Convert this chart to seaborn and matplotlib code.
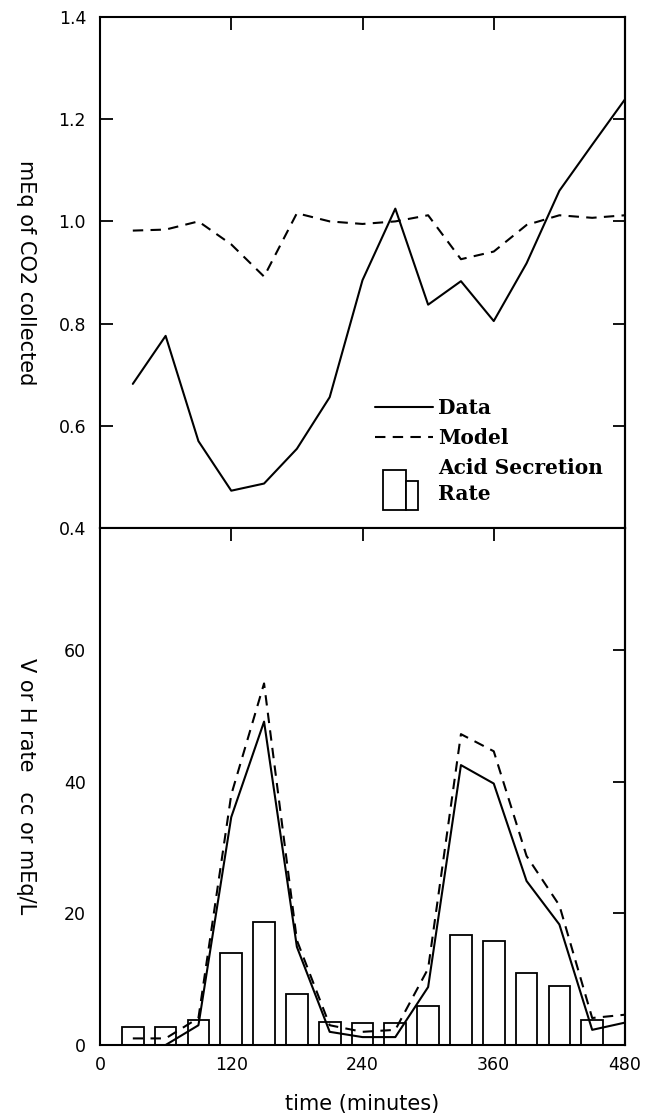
import numpy as np
import pandas as pd
import matplotlib
matplotlib.use("Agg")
import matplotlib.pyplot as plt
import seaborn as sns
from matplotlib.lines import Line2D
from matplotlib.patches import Rectangle
from matplotlib.legend_handler import HandlerBase

# ---------------- data ----------------
time_top = [30, 60, 90, 120, 150, 180, 210, 240, 270, 300, 330, 360, 390, 420, 450, 480]
co2_data = [0.682, 0.776, 0.570, 0.473, 0.487, 0.555, 0.656, 0.885, 1.025, 0.837,
            0.883, 0.805, 0.918, 1.060, 1.150, 1.239]
co2_model = [0.982, 0.984, 1.000, 0.955, 0.892, 1.016, 1.000, 0.995, 1.000, 1.012,
             0.926, 0.941, 0.993, 1.012, 1.007, 1.012]

bar_time = [30, 60, 90, 120, 150, 180, 210, 240, 270, 300, 330, 360, 390, 420, 450]
acid_rate = [2.8, 2.8, 3.8, 14.0, 18.7, 7.7, 3.5, 3.4, 3.4, 5.9, 16.7, 15.8, 11.0, 8.9, 3.8]

time_data_bot = [60, 90, 120, 150, 180, 210, 240, 270, 300, 330, 360, 390, 420, 450, 480]
vh_data = [0.0, 3.0, 34.6, 49.1, 14.9, 2.0, 1.2, 1.2, 8.8, 42.5, 39.7, 24.9, 18.3, 2.3, 3.4]
time_model_bot = [30, 60, 90, 120, 150, 180, 210, 240, 270, 300, 330, 360, 390, 420, 450, 480]
vh_model = [1.0, 1.0, 4.1, 38.0, 54.9, 15.9, 3.0, 2.0, 2.3, 11.6, 47.2, 44.6, 28.7, 21.2, 4.1, 4.6]

x_ticks = [0, 120, 240, 360, 480]
top_yticks = [0.4, 0.6, 0.8, 1.0, 1.2, 1.4]
bot_yticks = [0, 20, 40, 60]

# ---------------- style ----------------
sns.set_theme(style="ticks")
plt.rcParams["font.family"] = ["DejaVu Sans"]
plt.rcParams["axes.linewidth"] = 1.5
for k in ("text.color", "axes.labelcolor", "xtick.color", "ytick.color", "axes.edgecolor"):
    plt.rcParams[k] = "black"

fig = plt.figure(figsize=(6.5, 11.2), dpi=100)
L, R = 100 / 650, 625 / 650
ax1 = fig.add_axes([L, 1 - 528 / 1120, R - L, (528 - 17) / 1120])
ax2 = fig.add_axes([L, 1 - 1045 / 1120, R - L, (1045 - 528) / 1120])

dash = (5, 3.5)
lw = 1.5
fs = 12.5     # tick labels
lfs = 15      # axis labels

# ---------------- top panel ----------------
top_df = pd.DataFrame({"t": time_top, "Data": co2_data, "Model": co2_model})
sns.lineplot(data=top_df, x="t", y="Data", ax=ax1, color="black", lw=lw)
sns.lineplot(data=top_df, x="t", y="Model", ax=ax1, color="black", lw=lw,
             linestyle=(0, dash))
ax1.set_xlim(0, 480)
ax1.set_ylim(0.4, 1.4)
ax1.set_yticks(top_yticks)
ax1.set_yticklabels([f"{v:.1f}" for v in top_yticks])
ax1.set_xticks(x_ticks)
ax1.tick_params(axis="x", which="both", bottom=False, top=True, labelbottom=False,
                direction="in", length=9, width=1.3)
ax1.tick_params(axis="y", left=True, direction="in", length=9, width=1.3,
                labelsize=fs, pad=10)
ax1.set_xlabel("")
ax1.set_ylabel("mEq of CO2 collected", rotation=270, fontsize=lfs)
for sp in ax1.spines.values():
    sp.set_visible(True)

ax1r = ax1.secondary_yaxis("right")
ax1r.set_yticks(top_yticks[1:-1])
ax1r.tick_params(direction="in", length=9, width=1.3, labelright=False)


class BarIconHandler(HandlerBase):
    def create_artists(self, legend, orig_handle, xdescent, ydescent, width, height,
                       fontsize, trans):
        x0 = -xdescent
        y0 = -ydescent - 1.05 * fontsize
        tall = Rectangle((x0 + 0.14 * width, y0), 0.39 * width, 2.0 * fontsize,
                         facecolor="white", edgecolor="black", lw=1.3, transform=trans)
        short = Rectangle((x0 + 0.53 * width, y0), 0.22 * width, 1.45 * fontsize,
                          facecolor="white", edgecolor="black", lw=1.3, transform=trans)
        return [tall, short]


h_data = Line2D([], [], color="black", lw=lw)
h_model = Line2D([], [], color="black", lw=lw, linestyle=(0, dash))
h_bar = Rectangle((0, 0), 1, 1)
leg = ax1.legend([h_data, h_model, h_bar], ["Data", "Model", "Acid Secretion\nRate"],
                 handler_map={Rectangle: BarIconHandler()},
                 loc="upper left", bbox_to_anchor=(0.49, 0.29), frameon=False,
                 handlelength=2.85, handletextpad=0.25, labelspacing=0.5,
                 prop={"family": "DejaVu Serif", "weight": "bold", "size": 14.5})
leg.get_texts()[2].set_linespacing(1.35)

# ---------------- bottom panel ----------------
bar_df = pd.DataFrame({"t": bar_time, "rate": acid_rate})
sns.barplot(data=bar_df, x="t", y="rate", native_scale=True, width=0.66, ax=ax2,
            color="white", edgecolor="black", linewidth=1.3, zorder=1)
line_df1 = pd.DataFrame({"t": time_data_bot, "v": vh_data})
line_df2 = pd.DataFrame({"t": time_model_bot, "v": vh_model})
sns.lineplot(data=line_df1, x="t", y="v", ax=ax2, color="black", lw=lw, zorder=3)
sns.lineplot(data=line_df2, x="t", y="v", ax=ax2, color="black", lw=lw,
             linestyle=(0, dash), zorder=3)
ax2.set_xlim(0, 480)
ax2.set_ylim(0, 78.5)
ax2.set_xticks(x_ticks)
ax2.set_xticklabels([str(v) for v in x_ticks])
ax2.set_yticks(bot_yticks)
ax2.tick_params(axis="x", bottom=True, top=True, direction="in", length=9, width=1.3,
                labelsize=fs, pad=8)
ax2.tick_params(axis="y", left=True, direction="in", length=0, labelsize=fs, pad=10)
ax2r = ax2.secondary_yaxis("right")
ax2r.set_yticks(bot_yticks[1:])
ax2r.tick_params(direction="in", length=9, width=1.3, labelright=False)
ax2.set_xlabel("time (minutes)", fontsize=lfs, labelpad=14)
ax2.set_ylabel("V or H rate   cc or mEq/L", rotation=270, fontsize=lfs)
for sp in ax2.spines.values():
    sp.set_visible(True)
for a in (ax1, ax2):
    a.yaxis.set_label_coords(-0.16, 0.5)
    a.grid(False)

fig.savefig("out.png", dpi=100, facecolor="white")
